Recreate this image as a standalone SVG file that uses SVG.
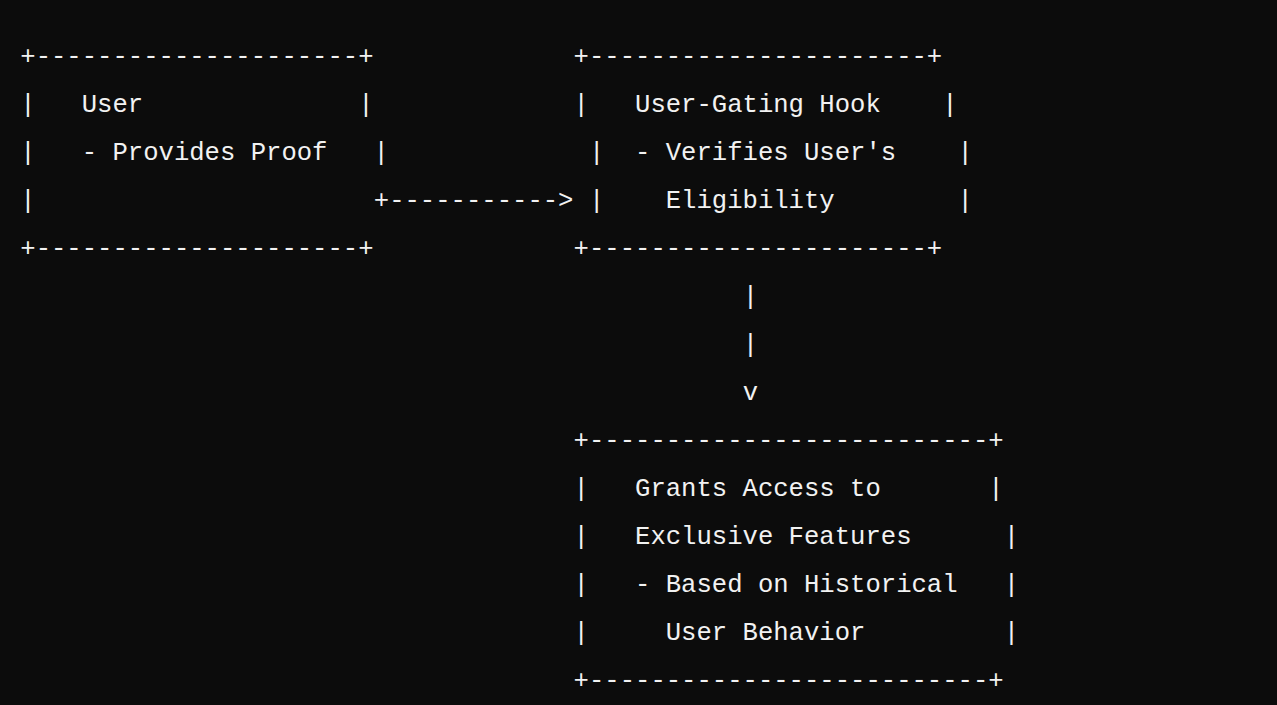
<svg xmlns="http://www.w3.org/2000/svg" width="1277" height="705" viewBox="0 0 1277 705">
<style>
text{font-family:"Liberation Mono","DejaVu Sans Mono",monospace;font-size:25.6px;fill:#f2f2f2;white-space:pre}
</style>
<rect x="0" y="0" width="1277" height="705" fill="#0c0c0c"/>
<g id="node-user">
<text x="20.3" y="64" xml:space="preserve">+---------------------+</text>
<text x="20.3" y="112" xml:space="preserve">|   User              |</text>
<text x="20.3" y="160" xml:space="preserve">|   - Provides Proof   |</text>
<text x="20.3" y="208" xml:space="preserve">|</text>
<text x="20.3" y="256" xml:space="preserve">+---------------------+</text>
</g>
<g id="node-hook">
<text x="573.6" y="64" xml:space="preserve">+----------------------+</text>
<text x="573.6" y="112" xml:space="preserve">|   User-Gating Hook    |</text>
<text x="573.6" y="160" xml:space="preserve"> |  - Verifies User's    |</text>
<text x="573.6" y="208" xml:space="preserve"> |    Eligibility        |</text>
<text x="573.6" y="256" xml:space="preserve">+----------------------+</text>
</g>
<g id="node-access">
<text x="573.6" y="448" xml:space="preserve">+--------------------------+</text>
<text x="573.6" y="496" xml:space="preserve">|   Grants Access to       |</text>
<text x="573.6" y="544" xml:space="preserve">|   Exclusive Features      |</text>
<text x="573.6" y="592" xml:space="preserve">|   - Based on Historical   |</text>
<text x="573.6" y="640" xml:space="preserve">|     User Behavior         |</text>
<text x="573.6" y="688" xml:space="preserve">+--------------------------+</text>
</g>
<g id="connectors">
<text x="373.8" y="208" xml:space="preserve">+-----------></text>
<text x="742.7" y="304">|</text>
<text x="742.7" y="352">|</text>
<text x="742.7" y="400">v</text>
</g>
</svg>
